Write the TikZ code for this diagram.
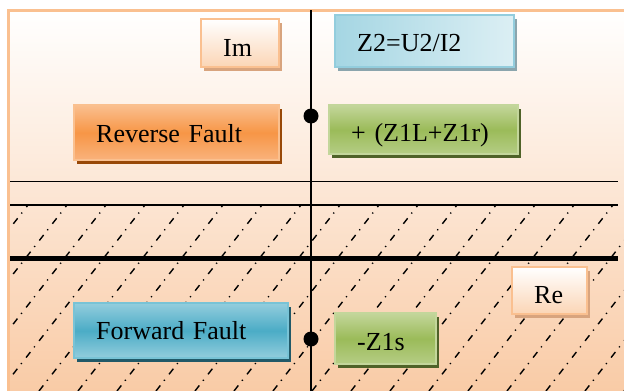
\documentclass[tikz,border=0pt]{standalone}
\usepackage{fontspec}
\setmainfont{Liberation Serif}
\definecolor{frameorange}{HTML}{FAC090}
\definecolor{bgbottom}{HTML}{F9CBA6}
\definecolor{peachfill}{HTML}{FBD5B5}
\definecolor{peachshadow}{HTML}{D8A47E}
\definecolor{orangeborder}{HTML}{FAC08F}
\definecolor{orangelight}{HTML}{FABF8F}
\definecolor{orangemid}{HTML}{F79646}
\definecolor{orangelow}{HTML}{F9B27C}
\definecolor{orangeshadow}{HTML}{984807}
\definecolor{blueborder}{HTML}{93CDDD}
\definecolor{blueleft}{HTML}{A5D6E3}
\definecolor{blueright}{HTML}{DCEFF4}
\definecolor{blueshadow}{HTML}{8BA5AD}
\definecolor{greenborder}{HTML}{C3D69B}
\definecolor{greentop}{HTML}{C3D69B}
\definecolor{greenmid}{HTML}{9BBB59}
\definecolor{greenlow}{HTML}{B5CD85}
\definecolor{greenshadow}{HTML}{4F6228}
\definecolor{tealborder}{HTML}{78C3D6}
\definecolor{tealtop}{HTML}{93CDDD}
\definecolor{tealmid}{HTML}{4BACC6}
\definecolor{tealshadow}{HTML}{215968}
\begin{document}
\begin{tikzpicture}[x=1pt,y=-1pt,
  boxbase/.style={rectangle, anchor=north west, inner xsep=22pt, inner ysep=0pt,
    text depth=0pt, align=left, font=\fontsize{26}{30}\selectfont, line width=2.4pt},
  shadowed/.style={preaction={fill=#1, transform canvas={shift={(3pt,-4pt)}}}},
  peachbox/.style={boxbase, draw=frameorange, top color=white, bottom color=peachfill, shadowed=peachshadow},
  orangebox/.style={boxbase, draw=orangeborder, top color=orangelight, bottom color=orangelow, middle color=orangemid, shadowed=orangeshadow},
  bluebox/.style={boxbase, draw=blueborder, left color=blueleft, right color=blueright, shadowed=blueshadow},
  greenbox/.style={boxbase, draw=greenborder, top color=greentop, bottom color=greenlow, middle color=greenmid, shadowed=greenshadow},
  tealbox/.style={boxbase, draw=tealborder, top color=tealtop, bottom color=tealtop, middle color=tealmid, shadowed=tealshadow},
  axisline/.style={draw=black, line width=1.5pt},
  hatchline/.style={draw=black, line width=1.4pt, dash pattern=on 7pt off 6pt on 1.2pt off 7pt},
  dotmark/.style={circle, fill=black, inner sep=0pt, minimum size=15pt}
]
\useasboundingbox (0,0) rectangle (624,391);
% background
\shade[top color=white, bottom color=bgbottom] (8.7,10.3) rectangle (624,391);
\draw[frameorange, line width=2.7pt] (8.7,391) -- (8.7,10.3) -- (624,10.3);
% hatching
\begin{scope}
  \clip (10,205) rectangle (624,391);
  \foreach \i in {-4,...,16} {
    \draw[hatchline] (\i*39,391) -- ({\i*39+145},205);
  }
\end{scope}
% axes and lines
\coordinate (vtop) at (311,10.3);
\coordinate (vbot) at (311,391);
\coordinate (h1l) at (10,181.5);
\coordinate (h1r) at (618,181.5);
\coordinate (h2l) at (10,205);
\coordinate (h2r) at (618,205);
\coordinate (h3l) at (10,258);
\coordinate (h3r) at (618,258);
\draw[axisline] (h1l) -- (h1r);
\draw[axisline] (h2l) -- (h2r);
\draw[black, line width=5pt] (h3l) -- (h3r);
\draw[black, line width=2pt] (vtop) -- (vbot);
\node[dotmark] (d1) at (311,116) {};
\node[dotmark] (d2) at (311,339) {};
% boxes
\node[peachbox, minimum width=78pt, minimum height=48pt, text width=34pt, text height=26pt] (im) at (200,18) {Im};
\node[orangebox, minimum width=205pt, minimum height=55pt, text width=161pt, text height=19pt] (rev) at (73,104) {Reverse Fault};
\node[bluebox, minimum width=179pt, minimum height=52pt, text width=135pt, text height=20pt] (z2) at (334,14) {Z2=U2/I2};
\node[greenbox, minimum width=189pt, minimum height=49pt, text width=145pt, text height=23pt] (zp) at (328,104) {+ (Z1L+Z1r)};
\node[tealbox, minimum width=214pt, minimum height=55pt, text width=170pt, text height=17pt] (fwd) at (73,302) {Forward Fault};
\node[greenbox, minimum width=101pt, minimum height=51pt, text width=57pt, text height=23pt] (zs) at (334,312) {-Z1s};
\node[peachbox, minimum width=75pt, minimum height=47pt, text width=31pt, text height=25pt] (re) at (511,266) {Re};
\end{tikzpicture}
\end{document}
